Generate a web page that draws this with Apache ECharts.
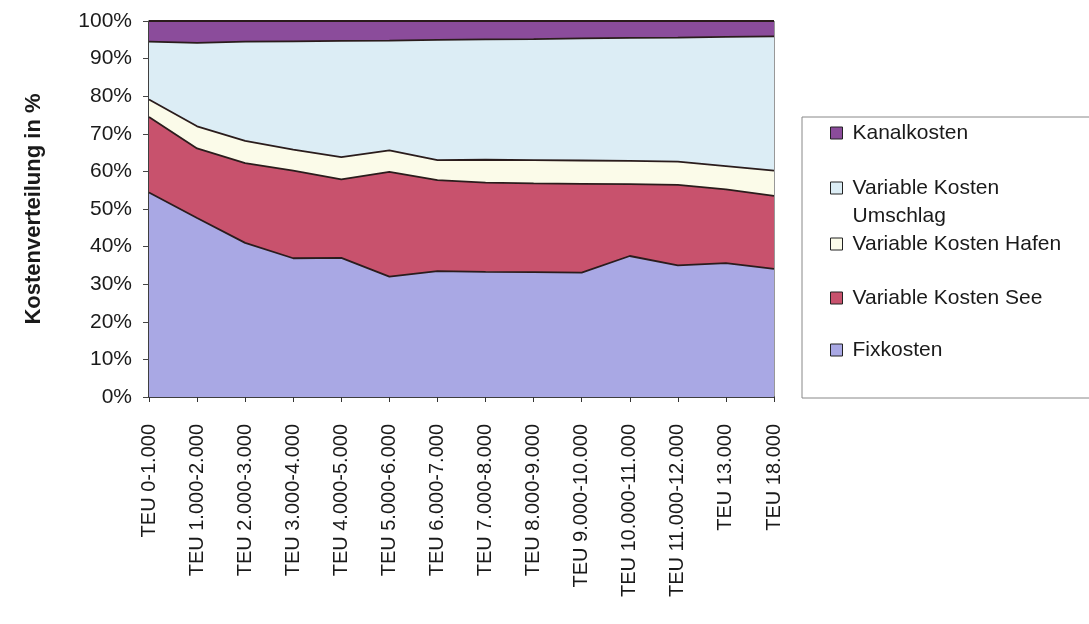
<!DOCTYPE html>
<html>
<head>
<meta charset="utf-8">
<script src="https://cdn.jsdelivr.net/npm/echarts@6/dist/echarts.min.js"></script>
<style>
  html, body { margin: 0; padding: 0; background: #fff; }
  #chart { width: 1089px; height: 624px; }
</style>
</head>
<body>
<div id="chart"></div>
<script>
// Kategorien (x-Achse)
const categories = [
  'TEU 0-1.000', 'TEU 1.000-2.000', 'TEU 2.000-3.000', 'TEU 3.000-4.000',
  'TEU 4.000-5.000', 'TEU 5.000-6.000', 'TEU 6.000-7.000', 'TEU 7.000-8.000',
  'TEU 8.000-9.000', 'TEU 9.000-10.000', 'TEU 10.000-11.000', 'TEU 11.000-12.000',
  'TEU 13.000', 'TEU 18.000'
]

// Anteile in % (von unten nach oben gestapelt)
const fixkosten = [54.4, 47.6, 41.0, 36.9, 37.0, 32.0, 33.5, 33.3, 33.2, 33.1, 37.5, 35.0, 35.6, 34.1]
const varSee = [20.1, 18.5, 21.2, 23.3, 20.9, 27.9, 24.2, 23.7, 23.6, 23.6, 19.1, 21.4, 19.6, 19.4]
const varHafen = [4.6, 5.9, 5.9, 5.6, 5.9, 5.7, 5.3, 6.1, 6.2, 6.2, 6.2, 6.2, 6.2, 6.7]
const varUmschlag = [15.4, 22.2, 26.4, 28.8, 30.9, 29.2, 32.0, 32.0, 32.2, 32.5, 32.7, 33.0, 34.4, 35.7]
const kanalkosten = [5.5, 5.8, 5.5, 5.4, 5.3, 5.2, 5.0, 4.9, 4.8, 4.6, 4.5, 4.4, 4.2, 4.1]

const yTicks = [0, 10, 20, 30, 40, 50, 60, 70, 80, 90, 100]

const chart = echarts.init(document.getElementById('chart'))

const font = 'Liberation Sans, Arial, sans-serif'
const lineColor = '#2a1c1c'

// series
const _series = {
  type: 'line',
  stack: 'total',
  symbol: 'none',
  smooth: false,
  lineStyle: { color: lineColor, width: 1.8 },
  emphasis: { disabled: true }
}

const seriesDefs = [
  { name: 'Fixkosten', data: fixkosten, color: '#a9a8e4' },
  { name: 'Variable Kosten See', data: varSee, color: '#c8526d' },
  { name: 'Variable Kosten Hafen', data: varHafen, color: '#fbfbe9' },
  { name: 'Variable Kosten Umschlag', data: varUmschlag, color: '#dcedf5' },
  { name: 'Kanalkosten', data: kanalkosten, color: '#8b4c9b' }
]

const series = seriesDefs.map(s => ({
  ..._series,
  name: s.name,
  data: s.data,
  itemStyle: { color: s.color },
  areaStyle: { opacity: 1, color: s.color }
}))

// legend: jede Zeile einzeln positioniert
const _legend = {
  orient: 'vertical',
  left: 830,
  padding: 0,
  icon: 'rect',
  itemWidth: 12,
  itemHeight: 12,
  selectedMode: false,
  itemStyle: { borderColor: '#222', borderWidth: 1 },
  textStyle: {
    fontFamily: font,
    fontSize: 21,
    color: '#1a1a1a',
    lineHeight: 28,
    padding: [0, 0, 0, 5]
  }
}

const legend = [
  { ..._legend, top: 119, data: ['Kanalkosten'] },
  {
    ..._legend,
    top: 174,
    itemHeight: 40,
    data: [{ name: 'Variable Kosten Umschlag', icon: 'path://M0,0H12V12H0Z M0,40' }],
    formatter: () => 'Variable Kosten\nUmschlag'
  },
  { ..._legend, top: 230, data: ['Variable Kosten Hafen'] },
  { ..._legend, top: 284, data: ['Variable Kosten See'] },
  { ..._legend, top: 336, data: ['Fixkosten'] }
]

const option = {
  animation: false,
  grid: {
    left: 149,
    right: 315,
    top: 21,
    bottom: 227,
    show: true,
    borderColor: '#333',
    borderWidth: 1
  },
  legend,
  graphic: [
    {
      type: 'rect',
      shape: { x: 802, y: 117, width: 320, height: 281 },
      style: { fill: 'none', stroke: '#888', lineWidth: 1 }
    }
  ],
  xAxis: {
    type: 'category',
    boundaryGap: false,
    data: categories,
    axisLine: { lineStyle: { color: '#222', width: 1.5 } },
    axisTick: { show: true, length: 5, lineStyle: { color: '#333' } },
    axisLabel: {
      rotate: 90,
      margin: 27,
      interval: 0,
      fontFamily: font,
      fontSize: 20,
      color: '#1a1a1a'
    },
    splitLine: { show: false }
  },
  yAxis: {
    type: 'value',
    min: yTicks[0],
    max: yTicks[yTicks.length - 1],
    interval: 10,
    name: 'Kostenverteilung in %',
    nameLocation: 'middle',
    nameRotate: 90,
    nameGap: 104,
    nameTextStyle: {
      fontFamily: font,
      fontSize: 22,
      fontWeight: 'bold',
      color: '#1a1a1a'
    },
    axisLine: { show: true, lineStyle: { color: '#222', width: 1.5 } },
    axisTick: { show: true, length: 6, lineStyle: { color: '#444' } },
    axisLabel: {
      margin: 17,
      fontFamily: font,
      fontSize: 21,
      color: '#1a1a1a',
      formatter: '{value}%'
    },
    splitLine: { show: false }
  },
  series
}

chart.setOption(option)
</script>
</body>
</html>
